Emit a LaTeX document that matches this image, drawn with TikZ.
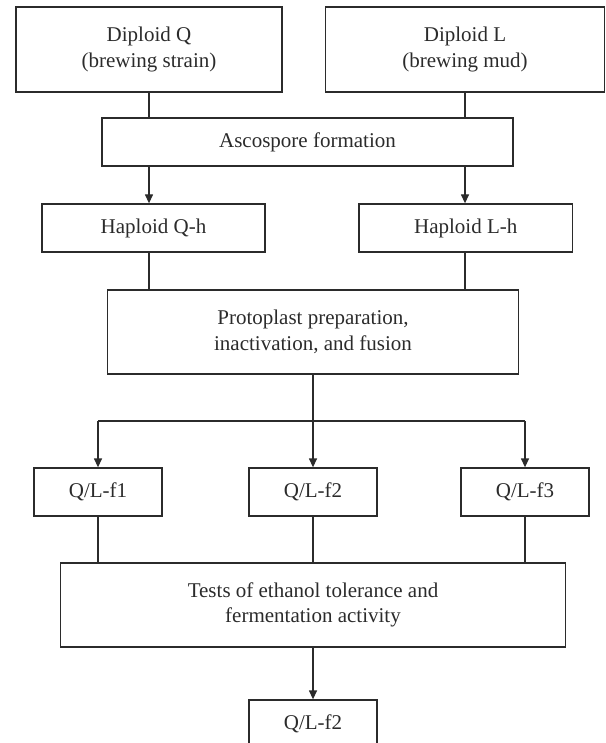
\documentclass[tikz,border=0pt]{standalone}
\usepackage{fontspec}
\setmainfont{Liberation Serif}
\usetikzlibrary{arrows.meta}
\definecolor{ink}{HTML}{2B2B2B}
\begin{document}
\begin{tikzpicture}[x=1pt,y=-1pt,
  box/.style={draw=ink, line width=1.3pt, rectangle, inner sep=0pt, align=center,
    text=ink, font=\fontsize{21}{25.5}\selectfont},
  conn/.style={draw=ink, line width=1.3pt},
  arr/.style={conn, -{Triangle[length=9pt,width=8pt]}}]
\useasboundingbox (0,0) rectangle (605,743);
\clip (0,0) rectangle (605,743);
\node[box, minimum width=266pt, minimum height=85pt] (dq) at (149,49.5) {Diploid Q\\(brewing strain)};
\node[box, minimum width=279pt, minimum height=85pt] (dl) at (465,49.5) {Diploid L\\(brewing mud)};
\node[box, minimum width=411pt, minimum height=48pt] (asc) at (307.5,142) {Ascospore formation};
\node[box, minimum width=223pt, minimum height=48pt] (hq) at (153.5,228) {Haploid Q-h};
\node[box, minimum width=213.5pt, minimum height=48pt] (hl) at (465.75,228) {Haploid L-h};
\node[box, minimum width=411pt, minimum height=84pt] (pp) at (313,332) {Protoplast preparation,\\inactivation, and fusion};
\coordinate (split) at (313,421);
\node[box, minimum width=128pt, minimum height=48pt] (f1) at (98,492) {Q/L-f1};
\node[box, minimum width=128pt, minimum height=48pt] (f2) at (313,492) {Q/L-f2};
\node[box, minimum width=128pt, minimum height=48pt] (f3) at (525,492) {Q/L-f3};
\node[box, minimum width=505pt, minimum height=84pt] (tests) at (313,605) {Tests of ethanol tolerance and\\fermentation activity};
\node[box, minimum width=128pt, minimum height=48pt] (fin) at (313,724) {Q/L-f2};
% connectors
\draw[conn] (dq.south) -- (dq.south |- asc.north);
\draw[conn] (dl.south) -- (dl.south |- asc.north);
\draw[arr] (asc.south -| dq.south) -- (hq.north -| dq.south);
\draw[arr] (asc.south -| dl.south) -- (hl.north -| dl.south);
\draw[conn] (hq.south -| dq.south) -- (pp.north -| dq.south);
\draw[conn] (hl.south -| dl.south) -- (pp.north -| dl.south);
\draw[conn] (pp.south) -- (split);
\draw[conn] (split -| f1.north) -- (split -| f3.north);
\draw[arr] (split -| f1.north) -- (f1.north);
\draw[arr] (split) -- (f2.north);
\draw[arr] (split -| f3.north) -- (f3.north);
\draw[conn] (f1.south) -- (f1.south |- tests.north);
\draw[conn] (f2.south) -- (f2.south |- tests.north);
\draw[conn] (f3.south) -- (f3.south |- tests.north);
\draw[arr] (tests.south) -- (tests.south |- fin.north);
\end{tikzpicture}
\end{document}
